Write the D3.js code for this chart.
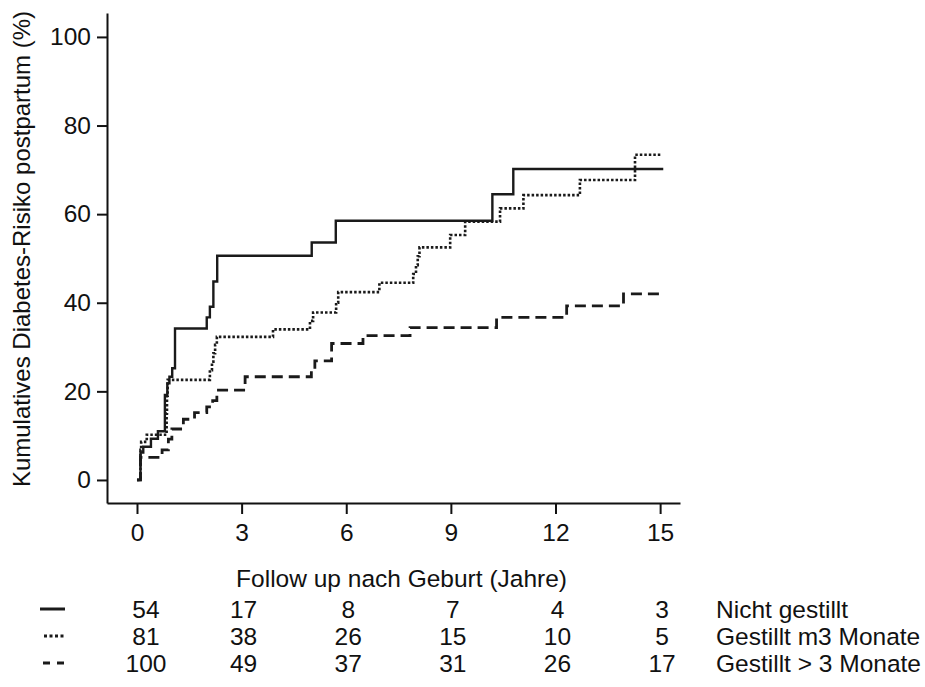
<!DOCTYPE html>
<html>
<head>
<meta charset="utf-8">
<script src="https://cdn.jsdelivr.net/npm/d3@7"></script>
<style>
  html, body { margin: 0; padding: 0; background: #fff; }
  svg text { font-family: "Liberation Sans", Arial, sans-serif; fill: #111; }
</style>
</head>
<body>
<svg id="chart" width="925" height="687"></svg>
<script>
// Follow-up time (years) at each step and cumulative risk (%) after the step
const nichtTimes  = [0, 0.1, 0.18, 0.4, 0.6, 0.8, 0.87, 0.93, 1.01, 1.09, 2.0, 2.09, 2.19, 2.3, 5.01, 5.7, 10.19, 10.79, 15.09];
const nichtRisk   = [0, 6.2, 7.5, 9.3, 11.0, 19.2, 21.8, 23.3, 25.2, 34.2, 36.7, 39.1, 44.8, 50.6, 53.6, 58.5, 64.5, 70.2, 70.2];

const kurzTimes   = [0, 0.1, 0.12, 0.28, 0.85, 0.86, 0.88, 2.09, 2.15, 2.19, 2.24, 2.29, 3.9, 4.96, 5.05, 5.71, 5.77, 6.95, 7.92, 8.0, 8.05, 8.1, 8.98, 9.41, 10.41, 11.08, 12.7, 14.28, 15.05];
const kurzRisk    = [0, 6.8, 8.6, 10.2, 15.0, 19.0, 22.6, 24.8, 26.7, 28.6, 30.5, 32.3, 34.0, 35.9, 37.8, 40.0, 42.4, 44.5, 46.5, 48.5, 50.5, 52.5, 55.3, 58.3, 61.3, 64.3, 67.7, 73.4, 73.4];

const langTimes   = [0, 0.1, 0.72, 0.9, 1.0, 1.33, 1.65, 2.0, 2.17, 2.29, 3.1, 5.0, 5.1, 5.58, 6.48, 7.83, 10.31, 12.32, 13.95, 15.09];
const langRisk    = [0, 5.1, 6.8, 9.2, 11.5, 13.7, 15.2, 16.5, 17.9, 20.3, 23.3, 25.4, 26.9, 30.8, 32.6, 34.4, 36.7, 39.3, 42.0, 42.0];

// Axis ticks
const xTicks = [0, 3, 6, 9, 12, 15];
const yTicks = [0, 20, 40, 60, 80, 100];

// Numbers at risk below the axis
const groupLabels = ["Nicht gestillt", "Gestillt m3 Monate", "Gestillt > 3 Monate"];
const atRiskNicht = [54, 17, 8, 7, 4, 3];
const atRiskKurz  = [81, 38, 26, 15, 10, 5];
const atRiskLang  = [100, 49, 37, 31, 26, 17];

const svg = d3.select("#chart");
const FS = 24.5;

const x = d3.scaleLinear().domain([-0.86, 15.57]).range([107, 680]);
const y = d3.scaleLinear().domain([-5.2, 105.4]).range([503, 13]);

// Axes
const yAxis = d3.axisLeft(y).tickValues(yTicks).tickSize(10).tickSizeOuter(0).tickPadding(6);
const gy = svg.append("g").attr("transform", `translate(${x.range()[0]},0)`).call(yAxis);
const xAxis = d3.axisBottom(x).tickValues(xTicks).tickSize(11).tickSizeOuter(0).tickPadding(10);
const gx = svg.append("g").attr("transform", `translate(0,${y.range()[0]})`).call(xAxis);

[gx, gy].forEach(g => {
  g.select(".domain").attr("stroke", "#111").attr("stroke-width", 2);
  g.selectAll(".tick line").attr("stroke", "#111").attr("stroke-width", 2);
  g.selectAll(".tick text").attr("font-size", FS).attr("font-family", "Liberation Sans, Arial, sans-serif").attr("fill", "#111");
});

// Axis titles
svg.append("text")
  .attr("transform", "translate(30,249) rotate(-90)")
  .attr("text-anchor", "middle")
  .attr("font-size", 24)
  .text("Kumulatives Diabetes-Risiko postpartum (%)");

svg.append("text")
  .attr("x", (x(0) + x(15)) / 2 + 3)
  .attr("y", 587)
  .attr("text-anchor", "middle")
  .attr("font-size", FS)
  .text("Follow up nach Geburt (Jahre)");

// Step curves
const series = [
  { times: nichtTimes, risk: nichtRisk, dash: null,  width: 2.4 },
  { times: kurzTimes,  risk: kurzRisk,  dash: "2.5,2", width: 2.6 },
  { times: langTimes,  risk: langRisk,  dash: "11,6", width: 2.8 }
];

const line = d3.line()
  .x(d => x(d[0]))
  .y(d => y(d[1]))
  .curve(d3.curveStepAfter);

series.forEach(s => {
  const pts = s.times.map((t, i) => [t, s.risk[i]]);
  svg.append("path")
    .attr("d", line(pts))
    .attr("fill", "none")
    .attr("stroke", "#1a1a1a")
    .attr("stroke-width", s.width)
    .attr("stroke-dasharray", s.dash);
});

// Numbers-at-risk table with line-style keys
const rowY = [618, 645, 672];
const rows = [atRiskNicht, atRiskKurz, atRiskLang];
const keyStart = [40, 44, 43];
const keyEnd   = [65, 64, 64];
rows.forEach((vals, r) => {
  svg.append("line")
    .attr("x1", keyStart[r]).attr("x2", keyEnd[r])
    .attr("y1", rowY[r] - 9).attr("y2", rowY[r] - 9)
    .attr("stroke", "#1a1a1a")
    .attr("stroke-width", 3)
    .attr("stroke-dasharray", r === 0 ? null : (r === 1 ? "3,2.5" : "7,7"));
  vals.forEach((v, i) => {
    svg.append("text")
      .attr("x", x(xTicks[i]) + (i === 0 ? 9 : 2))
      .attr("y", rowY[r])
      .attr("text-anchor", "middle")
      .attr("font-size", FS)
      .text(v);
  });
  svg.append("text")
    .attr("x", 716)
    .attr("y", rowY[r])
    .attr("font-size", FS)
    .text(groupLabels[r]);
});
</script>
</body>
</html>
